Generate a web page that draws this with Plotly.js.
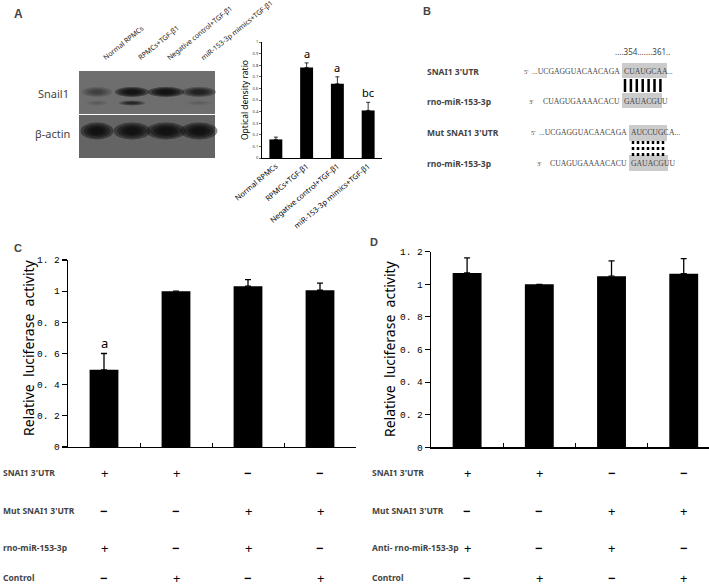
<!DOCTYPE html>
<html><head><meta charset="utf-8">
<script src="https://cdn.plot.ly/plotly-3.0.1.min.js"></script>
<style>html,body{margin:0;padding:0;background:#fff}#chart{width:709px;height:586px}</style>
</head><body><div id="chart"></div>
<script>
// ---------- Panel A (densitometry) ----------
const aCategories = ["Normal RPMCs", "RPMCs+TGF-β1", "Negative control+TGF-β1", "miR-153-3p mimics+TGF-β1"];
const aValues = [0.16, 0.78, 0.64, 0.41];
const aErrors = [0.02, 0.04, 0.06, 0.07];
const aLetters = ["", "a", "a", "bc"];
const aTickVals = [0, 0.1, 0.2, 0.3, 0.4, 0.5, 0.6, 0.7, 0.8, 0.9, 1];
const aTickText = ["0", "0.1", "0.2", "0.3", "0.4", "0.5", "0.6", "0.7", "0.8", "0.9", "1"];
// Western blot band intensities (lanes follow aCategories)
const snailBand = [0.3, 0.95, 1.0, 0.65];
const snailLowerBand = [0.1, 0.55, 0.0, 0.08];
const actinBand = [1.0, 0.95, 1.0, 1.0];

// ---------- Panels C and D (luciferase) ----------
const lucGroups = ["Group 1", "Group 2", "Group 3", "Group 4"];
const cValues = [0.495, 1.0, 1.032, 1.006];
const cErrors = [0.105, 0.0, 0.042, 0.046];
const cLetters = ["a", "", "", ""];
const dValues = [1.07, 1.0, 1.05, 1.065];
const dErrors = [0.092, 0.0, 0.094, 0.093];
const lucTickVals = [0, 0.2, 0.4, 0.6, 0.8, 1, 1.2];
const lucTickText = ["0", "0. 2", "0. 4", "0. 6", "0. 8", "1", "1. 2"];
const cRowLabels = ["SNAI1 3'UTR", "Mut SNAI1 3'UTR", "rno-miR-153-3p", "Control"];
const dRowLabels = ["SNAI1 3'UTR", "Mut SNAI1 3'UTR", "Anti- rno-miR-153-3p", "Control"];
const tableSigns = [["+", "+", "−", "−"], ["−", "−", "+", "+"], ["+", "−", "+", "−"], ["−", "+", "−", "+"]];

// ---------- Panel B (sequences) ----------
const seqRows = [
  {label: "SNAI1 3'UTR", prime: "5'", pre: "...UCGAGGUACAACAGA", hi: "CUAUGCAA", post: "..."},
  {label: "rno-miR-153-3p", prime: "3'", pre: "CUAGUGAAAACACU", hi: "GAUACGU", post: "U"},
  {label: "Mut SNAI1 3'UTR", prime: "5'", pre: "...UCGAGGUACAACAGA", hi: "AUCCUGC", post: "A..."},
  {label: "rno-miR-153-3p", prime: "3'", pre: "CUAGUGAAAACACU", hi: "GAUACGUU", post: ""}
];
const sitePositions = "....354.......361..";

// ---------- helpers ----------
const W = 709, H = 586;
const px = x => x / W;
const py = y => 1 - y / H;
const sans = "Noto Sans, Open Sans, sans-serif";
const serif = "Liberation Serif, DejaVu Serif, serif";
const mono = "Liberation Mono, DejaVu Sans Mono, monospace";

const annotations = [];
const shapes = [];
function txt(x, y, text, opt) {
  annotations.push(Object.assign({xref: "paper", yref: "paper", x: px(x), y: py(y), text: text,
    showarrow: false, xanchor: "left", yanchor: "middle", font: {family: sans, size: 9, color: "#000"}}, opt || {}));
}
function rect(x0, y0, x1, y1, color, layer) {
  shapes.push({type: "rect", xref: "paper", yref: "paper", x0: px(x0), x1: px(x1), y0: py(y1), y1: py(y0),
    fillcolor: color, line: {width: 0}, layer: layer || "above"});
}
function band(cx, cy, w, h, intensity) {
  if (intensity <= 0) return;
  for (let k = 0; k < 4; k++) {
    const s = 1 - k * 0.2;
    shapes.push({type: "circle", xref: "paper", yref: "paper",
      x0: px(cx - w * s / 2), x1: px(cx + w * s / 2), y0: py(cy + h * s / 2), y1: py(cy - h * s / 2),
      fillcolor: "rgba(10,10,10," + (intensity * 0.45).toFixed(3) + ")", line: {width: 0}, layer: "above"});
  }
}

// panel letters
txt(12, 14, "<b>A</b>", {font: {family: "Liberation Sans, Arial", size: 12}});
txt(421, 11, "<b>B</b>", {font: {family: "Liberation Sans, Arial", size: 11}});
txt(12, 248, "<b>C</b>", {font: {family: "Liberation Sans, Arial", size: 11}});
txt(368, 242, "<b>D</b>", {font: {family: "Liberation Sans, Arial", size: 11}});

// ---------- Western blot drawing ----------
rect(79, 71, 215, 114, "#6e6e6e");
rect(79, 115, 215, 158, "#646464");
const laneX = [97, 132, 166, 199];
const laneW = [30, 34, 36, 34];
laneX.forEach((x, i) => {
  band(x, 92, laneW[i], 10, snailBand[i]);
  band(x, 103, laneW[i] - 8, 5, snailLowerBand[i]);
  band(x, 131, laneW[i] + 3, 17, actinBand[i]);
});
txt(71, 94, "Snail1", {xanchor: "right", font: {family: sans, size: 11}});
txt(72, 134, "β-actin", {xanchor: "right", font: {family: sans, size: 11}});
const laneLabelX = [99, 134, 162, 196];
aCategories.forEach((c, i) => {
  txt(laneLabelX[i], 65, c, {textangle: -39, xanchor: "left", yanchor: "bottom", font: {family: sans, size: 7, color: "#222"}});
});

// ---------- Panel B ----------
txt(613, 52, sitePositions, {font: {family: sans, size: 8}});
const rowY = [71, 101, 133, 163];
const primeX = [522, 527, 529, 535];
const boxes = [[622, 667, 63, 78], [622, 662, 93, 108], [629, 667, 125, 141], [629, 668, 155, 171]];
seqRows.forEach((r, i) => {
  const b = boxes[i];
  rect(b[0], b[2], b[1], b[3], "#cbcbcb", "below");
  txt(425, rowY[i], "<b>" + r.label + "</b>", {font: {family: sans, size: 8.5}});
  txt(primeX[i], rowY[i], r.prime, {font: {family: serif, size: 6.5}});
  txt(b[0], rowY[i], r.pre, {xanchor: "right", font: {family: serif, size: 7.7}});
  txt(b[0], rowY[i], r.hi, {font: {family: serif, size: 7.7}});
  if (r.post) txt(b[0] + r.hi.length * 5.4, rowY[i], r.post, {font: {family: serif, size: 7.7}});
});
// pairing marks
for (let k = 0; k < 7; k++) {
  const x = 625 + k * 5.9;
  shapes.push({type: "line", xref: "paper", yref: "paper", x0: px(x), x1: px(x), y0: py(79), y1: py(92), line: {color: "#000", width: 2.5}});
  const x2 = 633 + k * 5.0;
  shapes.push({type: "line", xref: "paper", yref: "paper", x0: px(x2), x1: px(x2), y0: py(141), y1: py(156), line: {color: "#000", width: 2.5, dash: "dot"}});
}

// ---------- annotations on bars ----------
aLetters.forEach((l, i) => {
  if (l) annotations.push({xref: "x", yref: "y", x: aCategories[i], y: aValues[i] + aErrors[i], text: l, showarrow: false,
    yanchor: "bottom", yshift: 0, font: {family: sans, size: 11, color: "#000"}});
});
cLetters.forEach((l, i) => {
  if (l) annotations.push({xref: "x2", yref: "y2", x: lucGroups[i], y: cValues[i] + cErrors[i], text: l, showarrow: false,
    yanchor: "bottom", yshift: -1, font: {family: sans, size: 13, color: "#000"}});
});
// y-axis titles of C and D
txt(28, 348, "Relative  luciferase  activity", {textangle: -90, xanchor: "center", font: {family: sans, size: 14, color: "#000"}});
txt(389, 349, "Relative  luciferase  activity", {textangle: -90, xanchor: "center", font: {family: sans, size: 14, color: "#000"}});

// ---------- tables ----------
const tableY = [472, 510, 547, 577];
const signFont = s => s === "+" ? {family: sans, size: 13, color: "#000"} : {family: sans, size: 13, color: "#000"};
const signText = s => s === "+" ? "+" : "<b>−</b>";
cRowLabels.forEach((l, r) => {
  txt(1, tableY[r], "<b>" + l + "</b>", {font: {family: sans, size: 8.5}});
  tableSigns[r].forEach((s, c) => {
    annotations.push({xref: "x2", yref: "paper", x: lucGroups[c], y: py(tableY[r] + 1), text: signText(s), showarrow: false,
      font: signFont(s), xanchor: "center", yanchor: "middle"});
  });
});
dRowLabels.forEach((l, r) => {
  txt(370, tableY[r], "<b>" + l + "</b>", {font: {family: sans, size: 8.5}});
  tableSigns[r].forEach((s, c) => {
    annotations.push({xref: "x3", yref: "paper", x: lucGroups[c], y: py(tableY[r] + 1), text: signText(s), showarrow: false,
      font: signFont(s), xanchor: "center", yanchor: "middle"});
  });
});

const errStyle = (arr) => ({type: "data", array: arr, arrayminus: arr.map(() => 0), symmetric: false,
  color: "#000", thickness: 1.3, width: 3});

const traces = [
  {type: "bar", x: aCategories, y: aValues, xaxis: "x", yaxis: "y", width: 0.42,
   marker: {color: "#000"}, error_y: Object.assign(errStyle(aErrors), {thickness: 0.8, width: 2}), hoverinfo: "skip"},
  {type: "bar", x: lucGroups, y: cValues, xaxis: "x2", yaxis: "y2", width: 0.4,
   marker: {color: "#000"}, error_y: errStyle(cErrors), hoverinfo: "skip"},
  {type: "bar", x: lucGroups, y: dValues, xaxis: "x3", yaxis: "y3", width: 0.4,
   marker: {color: "#000"}, error_y: errStyle(dErrors), hoverinfo: "skip"}
];

const lucY = (domain) => ({domain: domain, range: [0, 1.2], tickvals: lucTickVals, ticktext: lucTickText,
  ticks: "outside", ticklen: 5, tickwidth: 1.2, tickcolor: "#000", showline: true, linecolor: "#000", linewidth: 1.3,
  showgrid: false, zeroline: false, tickfont: {family: mono, size: 9.5, color: "#000"}, automargin: false});
const lucX = (domain, range, anchor) => ({domain: domain, type: "category", range: range, anchor: anchor,
  tickson: "boundaries", ticks: "inside", ticklen: 4, tickcolor: "#000", showticklabels: false,
  showline: true, linecolor: "#000", linewidth: 1.3, showgrid: false, zeroline: false, automargin: false});

const layout = {
  width: W, height: H, margin: {l: 0, r: 0, t: 0, b: 0}, showlegend: false,
  paper_bgcolor: "#fff", plot_bgcolor: "rgba(0,0,0,0)",
  xaxis: {domain: [px(262), px(382)], type: "category", range: [-0.45, 3.45], anchor: "y",
    showline: true, linecolor: "#000", linewidth: 1, ticks: "", tickangle: -40,
    tickfont: {family: sans, size: 7.5, color: "#000"}, showgrid: false, automargin: false},
  yaxis: {domain: [py(158), py(42)], range: [0, 1], anchor: "x", tickvals: aTickVals, ticktext: aTickText,
    ticks: "outside", ticklen: 2, tickwidth: 0.8, showline: true, linecolor: "#000", linewidth: 1,
    tickfont: {family: sans, size: 4, color: "#333"}, showgrid: false, zeroline: false, automargin: false,
    title: {text: "Optical density ratio", font: {family: sans, size: 8.5, color: "#000"}, standoff: 2}},
  xaxis2: lucX([px(68), px(356)], [-0.5, 3.5], "y2"),
  yaxis2: Object.assign(lucY([py(447), py(260)]), {anchor: "x2"}),
  xaxis3: lucX([px(431), 1], [-0.5, 3.35], "y3"),
  yaxis3: Object.assign(lucY([py(447.3), py(251.7)]), {anchor: "x3"}),
  annotations: annotations, shapes: shapes
};

Plotly.newPlot("chart", traces, layout, {displayModeBar: false, staticPlot: true});
</script></body></html>
